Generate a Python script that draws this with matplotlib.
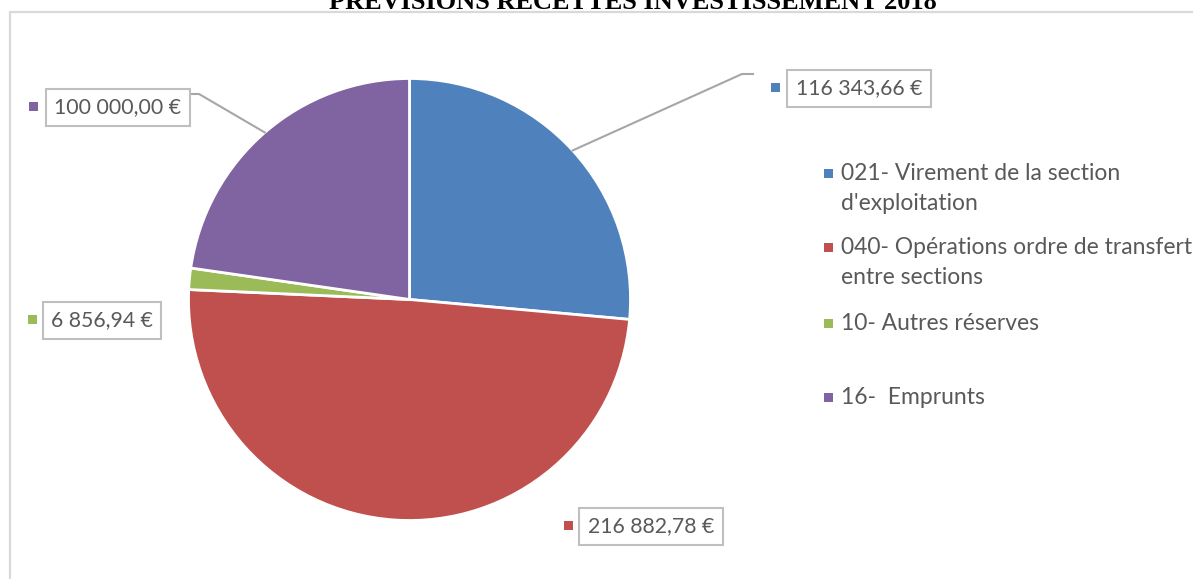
import numpy as np
import matplotlib
matplotlib.use('Agg')
import matplotlib.pyplot as plt
from matplotlib.patches import Rectangle

categories = ["021- Virement de la section\nd'exploitation",
              "040- Opérations ordre de transfert\nentre sections",
              "10- Autres réserves",
              "16-  Emprunts"]
values = [116343.66, 216882.78, 6856.94, 100000.00]
value_labels = ["116 343,66 €", "216 882,78 €", "6 856,94 €", "100 000,00 €"]
colors = ['#4F81BD', '#C0504D', '#9BBB59', '#8064A2']
title = "PREVISIONS RECETTES INVESTISSEMENT 2018"

W, H = 1193, 579
fig = plt.figure(figsize=(W / 100, H / 100), dpi=100)
plt.rcParams['font.family'] = ['Lato', 'DejaVu Sans']

# pie geometry in pixels
cx, cy, r = 409.5, 299.5, 221
ax = fig.add_axes([(cx - r) / W, 1 - (cy + r) / H, 2 * r / W, 2 * r / H])
wedges, _ = ax.pie(values, colors=colors, startangle=90, counterclock=False,
                   wedgeprops=dict(edgecolor='white', linewidth=2))
ax.set_xlim(-1, 1)
ax.set_ylim(-1, 1)

# overlay in pixel coordinates
ov = fig.add_axes([0, 0, 1, 1], zorder=5)
ov.set_xlim(0, W)
ov.set_ylim(H, 0)
ov.axis('off')
ov.patch.set_alpha(0)

# chart border (partially cropped)
ov.plot([9.5, 9.5, W + 5], [H + 5, 11.5, 11.5], color='#D9D9D9', lw=1.6,
        solid_joinstyle='miter', clip_on=False)

fig.text(633 / W, 1 - 9 / H, title, ha='center', va='baseline',
         family='Liberation Serif', fontweight='bold', fontsize=19, color='black')

txt_col = '#595959'
fs = 15.3

def mid_point(w):
    a = np.deg2rad((w.theta1 + w.theta2) / 2)
    return cx + r * np.cos(a), cy - r * np.sin(a)

# data labels: marker x, box center x, y
label_pos = [(775, 859, 87), (568, 651, 525), (32, 102, 319), (33, 118, 106)]
for (mx, tx, ty), lab, c in zip(label_pos, value_labels, colors):
    ov.add_patch(Rectangle((mx - 4.5, ty - 4.5), 9, 9, color=c, lw=0))
    ov.text(tx, ty + 1, lab, ha='center', va='center', fontsize=fs, color=txt_col,
            bbox=dict(boxstyle='square,pad=0.4', fc='white', ec='#BFBFBF', lw=1.5))

# leader lines
x0, y0 = mid_point(wedges[0])
ov.plot([x0, 742, 753], [y0, 74, 74], color='#A6A6A6', lw=1.5)
x3, y3 = mid_point(wedges[3])
ov.plot([x3, 199, 187], [y3, 94, 94], color='#A6A6A6', lw=1.5)

# legend
leg_y = [173, 247, 323, 397]
for ly, lab, c in zip(leg_y, categories, colors):
    ov.add_patch(Rectangle((828 - 4.5, ly - 4.5), 9, 9, color=c, lw=0))
    lines = lab.split('\n')
    for i, line in enumerate(lines):
        ov.text(841, ly + 30 * i + 1, line, ha='left', va='center', fontsize=16.5,
                color=txt_col)

fig.savefig('out.png', dpi=100)
